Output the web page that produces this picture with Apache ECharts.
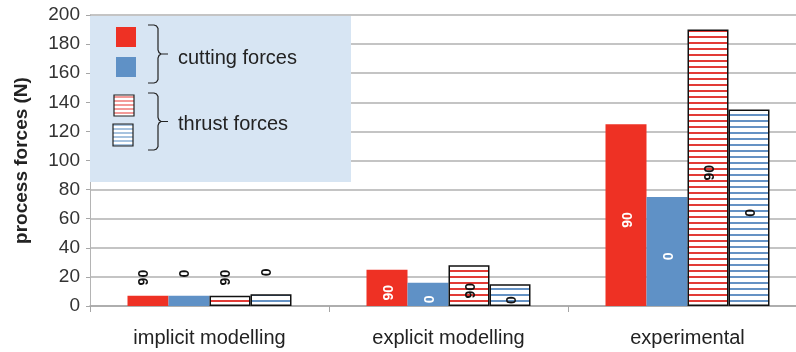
<!DOCTYPE html>
<html>
<head>
<meta charset="utf-8">
<script src="https://cdn.jsdelivr.net/npm/echarts@6/dist/echarts.min.js"></script>
<style>
  html, body { margin: 0; padding: 0; background: #fff; }
  #chart { width: 796px; height: 352px; }
</style>
</head>
<body>
<div id="chart"></div>
<script>
// Process forces per modelling approach (N)
const categories = ['implicit modelling', 'explicit modelling', 'experimental'];
const cutting90 = [7, 25, 125];   // cutting force, 90° fibre orientation
const cutting0 = [7, 16, 75];     // cutting force, 0° fibre orientation
const thrust90 = [7, 28, 190];    // thrust force, 90° fibre orientation
const thrust0 = [8, 15, 135];     // thrust force, 0° fibre orientation
const orientationTags = ['90', '0', '90', '0'];
const yTicks = { min: 0, max: 200, interval: 20 };

const RED = '#ee3124';
const BLUE = '#5f91c6';
const FONT = 'Liberation Sans, Arial, sans-serif';

// horizontal stripe fill used by the thrust-force bars
function stripes(color, period, thick) {
  const c = document.createElement('canvas');
  c.width = 8; c.height = period;
  const g = c.getContext('2d');
  g.fillStyle = '#ffffff';
  g.fillRect(0, 0, 8, period);
  g.fillStyle = color;
  g.fillRect(0, 0, 8, thick);
  return { image: c, repeat: 'repeat' };
}

const baseLabel = {
  show: true,
  rotate: 90,
  fontFamily: FONT,
  fontWeight: 'bold',
  fontSize: 14
};

// label offsets are in the rotated frame: [-x] moves text down, [+y] moves it right
function series(name, values, tag, fill, hatched) {
  return {
    name: name,
    type: 'bar',
    barWidth: 41,
    barGap: '0%',
    itemStyle: hatched
      ? { color: fill, borderColor: '#111', borderWidth: 1.5 }
      : { color: fill },
    data: values.map(v => {
      const small = v < 10;
      return {
        value: v,
        label: Object.assign({ formatter: tag }, baseLabel, small
          ? { position: 'top', distance: 26, align: 'right', verticalAlign: 'middle', offset: [0, -4], color: '#111' }
          : { position: 'inside', align: 'center', verticalAlign: 'middle', offset: [-5, 2], color: hatched ? '#111' : '#fff' }),
      };
    }),
    emphasis: { disabled: true }
  };
}

const chart = echarts.init(document.getElementById('chart'), null, { renderer: 'canvas' });

// curly brace built from a polyline: hooks at both ends, point in the middle
function brace(x, y1, y2) {
  const m = (y1 + y2) / 2;
  const v = x + 10;
  return [
    [x, y1], [x + 6, y1], [x + 8.5, y1 + 1], [v, y1 + 3.5],
    [v, m - 4], [v + 1, m - 1.5], [v + 3, m], [v + 10, m],
    [v + 3, m], [v + 1, m + 1.5], [v, m + 4],
    [v, y2 - 3.5], [x + 8.5, y2 - 1], [x + 6, y2], [x, y2]
  ];
}

const legendGraphic = [
  { type: 'rect', z: 50, shape: { x: 90, y: 16, width: 261, height: 166 }, style: { fill: '#d7e5f3' } },
  { type: 'rect', z: 51, shape: { x: 116, y: 27, width: 20, height: 20 }, style: { fill: RED } },
  { type: 'rect', z: 51, shape: { x: 116, y: 57, width: 20, height: 20 }, style: { fill: BLUE } },
  { type: 'rect', z: 51, shape: { x: 114, y: 95, width: 20, height: 21 }, style: { fill: stripes('#f39a98', 4, 2), stroke: '#222', lineWidth: 1.2 } },
  { type: 'rect', z: 51, shape: { x: 113, y: 124, width: 20, height: 22 }, style: { fill: stripes('#a7c3df', 4, 2), stroke: '#222', lineWidth: 1.2 } },
  { type: 'polyline', z: 51, shape: { points: brace(148, 25, 83) }, style: { fill: null, stroke: '#222', lineWidth: 1.2 } },
  { type: 'polyline', z: 51, shape: { points: brace(148, 93, 150) }, style: { fill: null, stroke: '#222', lineWidth: 1.2 } },
  { type: 'text', z: 51, x: 178, y: 58, style: { text: 'cutting forces', font: '20px ' + FONT, fill: '#222', verticalAlign: 'middle' } },
  { type: 'text', z: 51, x: 178, y: 124, style: { text: 'thrust forces', font: '20px ' + FONT, fill: '#222', verticalAlign: 'middle' } }
];

chart.setOption({
  animation: false,
  backgroundColor: '#ffffff',
  // plot runs a little past the right edge of the canvas
  grid: { left: 90, width: 717, top: 15, bottom: 46, containLabel: false, outerBoundsMode: 'none' },
  xAxis: {
    type: 'category',
    data: categories,
    axisLine: { lineStyle: { color: '#a6a6a6', width: 1.5 } },
    axisTick: { show: true, length: 6, lineStyle: { color: '#a6a6a6' } },
    axisLabel: { fontFamily: FONT, fontSize: 20, color: '#222', margin: 22 }
  },
  yAxis: {
    type: 'value',
    min: yTicks.min, max: yTicks.max, interval: yTicks.interval,
    name: 'process forces (N)',
    nameLocation: 'middle',
    nameGap: 59,
    nameTextStyle: { fontFamily: FONT, fontWeight: 'bold', fontSize: 19, color: '#222' },
    axisLine: { show: true, lineStyle: { color: '#b4b4b4', width: 1 } },
    axisTick: { show: true, length: 4, lineStyle: { color: '#a6a6a6' } },
    axisLabel: { fontFamily: FONT, fontSize: 19, color: '#333', margin: 10 },
    splitLine: { lineStyle: { color: '#b0b0b0', width: 1.5 } }
  },
  series: [
    series('cutting 90', cutting90, orientationTags[0], RED, false),
    series('cutting 0', cutting0, orientationTags[1], BLUE, false),
    series('thrust 90', thrust90, orientationTags[2], stripes('#e23b36', 6, 2), true),
    series('thrust 0', thrust0, orientationTags[3], stripes('#6592c4', 6, 2), true)
  ],
  graphic: legendGraphic
});
</script>
</body>
</html>
